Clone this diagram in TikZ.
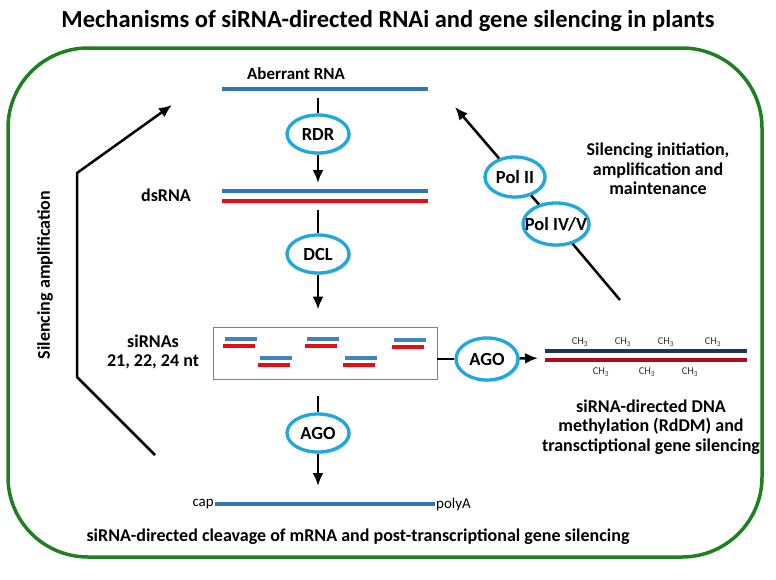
\documentclass[tikz,border=0pt]{standalone}
\usepackage{fontspec}
\setmainfont{Carlito}
\usetikzlibrary{shapes.geometric,shadows,arrows.meta}
\definecolor{rnablue}{RGB}{46,117,182}
\definecolor{rnared}{RGB}{226,16,22}
\definecolor{dnablue}{RGB}{31,50,100}
\definecolor{dnared}{RGB}{175,10,25}
\definecolor{enzblue}{RGB}{30,168,222}
\definecolor{framegreen}{RGB}{32,128,32}
\tikzset{
  enzyme/.style={ellipse, draw=enzblue, line width=3.3pt, fill=white,
    minimum width=62pt, minimum height=38pt, inner xsep=-9pt, inner ysep=-5pt,
    font=\bfseries\fontsize{18.5}{20}\selectfont,
    drop shadow={opacity=.25,shadow xshift=2pt,shadow yshift=-2pt}},
  lbl/.style={font=\bfseries\fontsize{18}{19.5}\selectfont, align=center},
  strand/.style={line width=4pt},
  flow/.style={->, >={Latex[length=13pt,width=11pt]}, line width=2.5pt},
  link/.style={line width=2.5pt},
  methyl/.style={font=\fontsize{10.5}{11}\selectfont, text=black!80, inner sep=1pt},
}
\begin{document}
\begin{tikzpicture}[x=1pt,y=-1pt]
\useasboundingbox (0,0) rectangle (776,579);
\node[font=\bfseries\fontsize{24.5}{28}\selectfont] (title) at (388,21) {Mechanisms of siRNA-directed RNAi and gene silencing in plants};
\draw[framegreen, line width=3.5pt, rounded corners=80pt] (8,48) rectangle (762,557);

% RNA strands
\node[lbl, font=\bfseries\fontsize{17}{19}\selectfont] (abtxt) at (296,74) {Aberrant RNA};
\draw[strand, rnablue] (222,89) coordinate (abL) -- (428,89) coordinate (abR);
\coordinate (abC) at (318,89);
\node[lbl] (dstxt) at (166,195) {dsRNA};
\draw[strand, rnablue] (222,191) -- (428,191);
\draw[strand, rnared] (222,201) -- (428,201);
\coordinate (dsT) at (318,191);
\coordinate (dsB) at (318,201);

\node[enzyme] (rdr) at (318,134) {RDR};
\node[enzyme] (dcl) at (318,254) {DCL};
\draw[link, shorten <=9pt] (abC) -- (rdr);
\draw[flow, shorten >=8pt] (rdr) -- (dsT);
\draw[link, shorten <=9pt] (dsB) -- (dcl);

% siRNA box
\node[draw=black!50, line width=.8pt, minimum width=224pt, minimum height=52pt] (box) at (325,353) {};
\foreach \x/\y in {225/339, 260/358, 307/339, 345/358, 394/340} {
  \draw[line width=3.5pt, rnablue!90] (\x,\y) -- ++(32,0);
  \draw[line width=3.5pt, rnared] ({\x-2},{\y+7}) -- ++(32,0);
}
\node[lbl] (sitxt) at (153,352) {siRNAs\\21, 22, 24 nt};
\draw[flow, shorten >=17pt] (dcl) -- (dcl |- box.north);

% AGO to DNA
\node[enzyme, minimum height=42pt] (ago2) at (487,359) {AGO};
\draw[link] (ago2.west) -- (ago2.west -| box.east);
\draw[strand, line width=3.5pt, dnablue] (545,351) coordinate (dnaL) -- (747,351);
\draw[strand, line width=3.5pt, dnared] (545,360) -- (747,360);
\coordinate (dnaC) at (545,358);
\draw[flow, shorten >=7pt] (ago2) -- (dnaC);
\foreach \x in {580,623,666,713} \node[methyl] (mt\x) at (\x,342) {CH\textsubscript{3}};
\foreach \x in {601,647,690} \node[methyl] (mb\x) at (\x,372) {CH\textsubscript{3}};
\node[lbl] (rddm) at (651,427) {siRNA-directed DNA\\methylation (RdDM) and\\transctiptional gene silencing};

% AGO to mRNA
\node[enzyme] (ago1) at (318,433) {AGO};
\draw[link, shorten <=17pt] (ago1 |- box.south) -- (ago1);
\draw[strand, rnablue] (215,504) coordinate (mL) -- (435,504) coordinate (mR);
\coordinate (mC) at (318,504);
\draw[flow, shorten >=18pt] (ago1) -- (mC);
\node[anchor=east, inner sep=1pt, font=\fontsize{15}{17}\selectfont] (cap) at (mL) {cap};
\node[anchor=west, inner sep=1pt, font=\fontsize{15}{17}\selectfont] (polya) at (mR) {polyA};
\node[lbl] (cleave) at (358,537) {siRNA-directed cleavage of mRNA and post-transcriptional gene silencing};

% amplification loops
\coordinate (lstart) at (155,455);
\coordinate (lc1) at (77,377);
\coordinate (lc2) at (77,173);
\coordinate (ltip) at (172,105);
\draw[flow, line join=round] (lstart) -- (lc1) -- (lc2) -- (ltip);
\node[lbl, rotate=90] (amptxt) at (45,275) {Silencing amplification};

\node[enzyme, minimum width=60pt, minimum height=40pt] (pol2) at (515,177) {Pol II};
\node[enzyme, minimum width=66pt, minimum height=42pt] (pol45) at (556,224) {Pol IV/V};
\coordinate (rtail) at (620,300);
\coordinate (rtip) at (455,107);
\draw[link] (rtail) -- (pol45);
\draw[link] (pol45) -- (pol2);
\draw[flow] (pol2) -- (rtip);
\node[lbl] (inittxt) at (658,169) {Silencing initiation,\\amplification and\\maintenance};
\end{tikzpicture}
\end{document}
